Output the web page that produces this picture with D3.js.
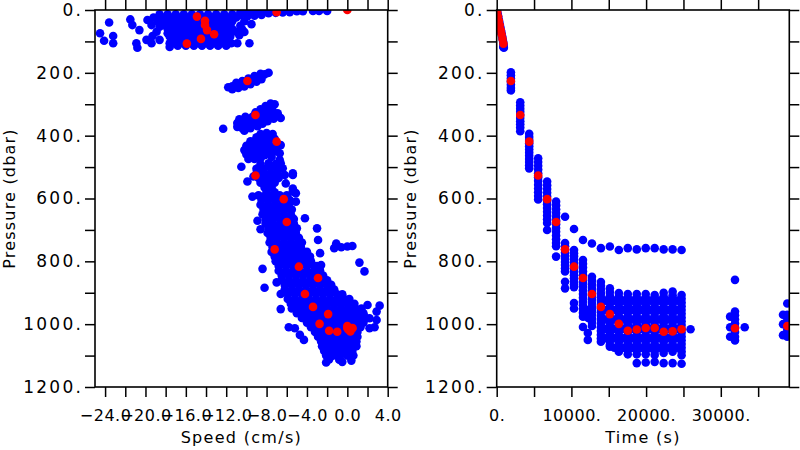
<!DOCTYPE html>
<html><head><meta charset="utf-8">
<script src="https://cdn.jsdelivr.net/npm/d3@7"></script>
<style>body{margin:0;background:#fff}</style>
</head><body>
<script>
// ---------------- DATA ----------------
// Left panel: [speed (cm/s), pressure (dbar)]
const speedBlue = [
// surface blob
[-18.6,14],[-17.8,14],[-17.0,14],[-16.2,14],[-15.4,14],[-14.6,14],[-13.8,14],[-13.0,14],[-12.2,14],[-11.4,14],
[-19.2,24],[-18.2,24],[-17.4,24],[-16.6,24],[-15.8,24],[-15.0,24],[-14.2,24],[-13.4,24],[-12.6,24],[-11.8,24],[-11.0,24],
[-18.8,36],[-17.8,36],[-17.0,36],[-16.2,36],[-15.4,36],[-14.6,36],[-13.8,36],[-13.0,36],[-12.2,36],[-11.4,36],
[-18.2,48],[-17.4,48],[-16.6,48],[-15.8,48],[-15.0,48],[-14.2,48],[-13.4,48],[-12.6,48],[-11.8,48],
[-17.8,60],[-17.0,60],[-16.2,60],[-15.4,60],[-14.6,60],[-13.8,60],[-13.0,60],[-12.2,60],[-11.4,60],
[-17.4,72],[-16.6,72],[-15.8,72],[-15.0,72],[-14.2,72],[-13.4,72],[-12.6,72],[-11.8,72],
[-17.6,84],[-17.0,84],[-16.2,84],[-15.4,84],[-14.6,84],[-13.8,84],[-13.0,84],[-12.2,84],[-11.6,84],
[-17.4,96],[-16.6,96],[-15.8,96],[-15.0,96],[-14.2,96],[-13.4,96],[-12.6,96],[-11.8,96],
[-17.6,106],[-17.0,106],[-16.2,106],[-15.4,106],[-14.6,106],[-13.8,106],[-13.0,106],[-12.2,106],[-11.5,106],
[-16.8,114],[-16.0,114],[-15.2,114],[-14.4,114],[-13.6,114],[-12.8,114],[-12.0,114],
[-24.5,74],[-24.1,98],[-23.6,40],[-23.2,83],[-23.2,106],[-21.5,30],[-21.3,48],[-20.6,64],[-20.9,106],[-20.8,120],
[-19.9,95],[-19.8,32],[-19.4,48],[-18.9,69],[-18.6,95],[-19.4,106],[-19.3,83],[-18.3,26],[-18.6,53],[-17.8,74],[-17.6,118],
[-11.0,69],[-10.7,80],[-10.4,62],[-10.9,106],[-9.7,106],[-10.2,70],[-9.5,45],[-10.6,50],[-10.2,36],
[-10.6,8],[-10.6,16],[-9.9,6],[-9.9,13],[-9.9,20],[-9.2,6],[-9.2,12],[-9.2,18],[-8.5,5],[-8.5,11],[-8.5,16],
[-7.8,5],[-7.8,10],[-7.1,4],[-7.1,9],[-6.4,4],[-6.4,8],[-5.7,4],[-5.7,7],[-5.0,4],[-4.4,4],[-3.4,3],[-2.8,3],[-2.0,3],
// 200-250 dbar
[-11.8,246],[-11.4,243],[-11.0,240],[-10.6,236],[-10.2,232],[-9.8,227],[-9.4,222],[-9.0,216],[-8.6,210],[-8.2,205],[-7.8,200],
[-11.4,252],[-10.8,248],[-10.2,243],[-9.6,236],[-9.0,228],[-8.5,220],[-11.0,232],[-10.4,226],[-9.8,218],[-9.2,210],[-8.6,203],
// 300-380 dbar
[-10.9,372],[-10.9,360],[-10.4,376],[-10.4,364],[-10.4,352],[-9.9,370],[-9.9,358],[-9.9,346],[-9.4,364],[-9.4,352],[-9.4,340],
[-8.9,358],[-8.9,346],[-8.9,334],[-8.4,350],[-8.4,338],[-8.4,326],[-7.9,342],[-7.9,330],[-7.9,318],[-7.4,334],[-7.4,320],
[-7.2,300],[-7.6,310],[-6.9,329],[-6.6,344],[-12.3,378],
[-10.7,348],[-10.1,340],[-9.1,326],[-8.6,316],[-8.1,306],[-7.6,298],[-9.6,376],[-8.9,370],[-8.4,362],[-7.9,354],[-7.3,346],[-10.2,384],
// 390-500 dbar
[-8.6,395],[-8.0,392],[-7.4,395],[-9.0,405],[-8.4,405],[-7.8,405],[-7.2,410],[-9.6,418],[-9.0,418],[-8.4,418],[-7.8,420],
[-10.0,432],[-9.4,432],[-8.8,432],[-8.2,432],[-7.6,435],[-10.2,446],[-9.6,446],[-9.0,446],[-8.4,446],[-7.8,448],[-7.2,450],
[-10.0,460],[-9.4,460],[-8.8,460],[-8.2,462],[-9.8,474],[-9.2,474],[-8.6,472],[-6.7,456],[-6.7,477],[-10.5,499],[-7.5,468],
[-7.0,440],[-6.6,430],[-6.6,488],
// 490-600 dbar
[-8.6,490],[-7.8,488],[-7.1,490],[-9.0,505],[-8.3,505],[-7.6,503],[-6.9,505],[-9.0,520],[-8.3,520],[-7.6,520],[-6.9,520],
[-8.8,535],[-8.1,535],[-7.4,535],[-6.8,535],[-8.6,550],[-7.9,550],[-7.2,550],[-8.2,565],[-7.5,565],[-8.0,578],[-7.2,580],
[-6.4,504],[-5.4,520],[-6.1,552],[-5.4,568],[-5.1,583],[-9.4,594],[-9.9,546],[-9.3,530],[-5.4,525],[-5.4,578],[-6.2,525],
// main band 590-1120 dbar
[-8.8,590],[-8.1,590],[-7.4,590],[-6.7,590],[-6.0,590],
[-8.5,605],[-7.8,605],[-7.1,605],[-6.4,605],[-5.7,605],
[-8.6,620],[-7.9,620],[-7.2,620],[-6.5,620],[-5.8,620],
[-8.3,635],[-7.6,635],[-6.9,635],[-6.2,635],[-5.5,635],
[-8.4,650],[-7.7,650],[-7.0,650],[-6.3,650],[-5.6,650],
[-8.1,665],[-7.4,665],[-6.7,665],[-6.0,665],[-5.3,665],
[-8.1,680],[-7.4,680],[-6.7,680],[-6.0,680],[-5.3,680],
[-7.8,695],[-7.1,695],[-6.4,695],[-5.7,695],[-5.0,695],
[-7.9,710],[-7.2,710],[-6.5,710],[-5.8,710],[-5.1,710],
[-7.6,725],[-6.9,725],[-6.2,725],[-5.5,725],[-4.8,725],
[-7.7,740],[-7.0,740],[-6.3,740],[-5.6,740],[-4.9,740],[-4.5,740],
[-7.4,755],[-6.7,755],[-6.0,755],[-5.3,755],[-4.6,755],
[-7.5,770],[-6.8,770],[-6.1,770],[-5.4,770],[-4.7,770],[-4.0,770],
[-7.2,785],[-6.5,785],[-5.8,785],[-5.1,785],[-4.4,785],[-3.7,785],
[-7.1,800],[-6.4,800],[-5.7,800],[-5.0,800],[-4.3,800],[-3.6,800],
[-6.8,815],[-6.1,815],[-5.4,815],[-4.7,815],[-4.0,815],[-3.3,815],[-3.0,815],
[-6.8,830],[-6.1,830],[-5.4,830],[-4.7,830],[-4.0,830],[-3.3,830],[-2.7,830],
[-6.5,845],[-5.8,845],[-5.1,845],[-4.4,845],[-3.7,845],[-3.0,845],[-2.4,845],
[-6.5,860],[-5.8,860],[-5.1,860],[-4.4,860],[-3.7,860],[-3.0,860],[-2.3,860],[-2.0,860],
[-6.2,875],[-5.5,875],[-4.8,875],[-4.1,875],[-3.4,875],[-2.7,875],[-2.0,875],[-1.6,875],
[-6.2,890],[-5.5,890],[-4.8,890],[-4.1,890],[-3.4,890],[-2.7,890],[-2.0,890],[-1.3,890],
[-5.9,905],[-5.2,905],[-4.5,905],[-3.8,905],[-3.1,905],[-2.4,905],[-1.7,905],[-1.0,905],[-0.5,905],
[-5.9,920],[-5.2,920],[-4.5,920],[-3.8,920],[-3.1,920],[-2.4,920],[-1.7,920],[-1.0,920],[-0.3,920],[0.2,920],
[-5.6,935],[-4.9,935],[-4.2,935],[-3.5,935],[-2.8,935],[-2.1,935],[-1.4,935],[-0.7,935],[0.0,935],[0.7,935],
[-5.5,950],[-4.8,950],[-4.1,950],[-3.4,950],[-2.7,950],[-2.0,950],[-1.3,950],[-0.6,950],[0.1,950],[0.8,950],[1.4,950],
[-5.0,965],[-4.3,965],[-3.6,965],[-2.9,965],[-2.2,965],[-1.5,965],[-0.8,965],[-0.1,965],[0.6,965],[1.3,965],[1.6,965],
[-4.5,980],[-3.8,980],[-3.1,980],[-2.4,980],[-1.7,980],[-1.0,980],[-0.3,980],[0.4,980],[1.1,980],[1.8,980],
[-4.0,995],[-3.3,995],[-2.6,995],[-1.9,995],[-1.2,995],[-0.5,995],[0.2,995],[0.9,995],[1.6,995],
[-3.6,1010],[-2.9,1010],[-2.2,1010],[-1.5,1010],[-0.8,1010],[-0.1,1010],[0.6,1010],[1.3,1010],
[-3.2,1025],[-2.5,1025],[-1.8,1025],[-1.1,1025],[-0.4,1025],[0.3,1025],[1.0,1025],
[-2.9,1040],[-2.2,1040],[-1.5,1040],[-0.8,1040],[-0.1,1040],[0.6,1040],[1.0,1040],
[-2.6,1055],[-1.9,1055],[-1.2,1055],[-0.5,1055],[0.2,1055],[0.9,1055],
[-2.5,1070],[-1.8,1070],[-1.1,1070],[-0.4,1070],[0.3,1070],[0.9,1070],
[-2.3,1085],[-1.6,1085],[-0.9,1085],[-0.2,1085],[0.5,1085],
[-2.1,1100],[-1.4,1100],[-0.7,1100],[0.0,1100],[0.6,1100],
[-1.8,1112],[-0.8,1113],[0.4,1116],[-2.1,1122],[-0.5,1120],
// outliers
[-8.9,671],[-8.6,698],[-8.4,824],[-8.2,884],[-7.0,867],[-6.6,904],[-6.6,952],[-4.2,663],[-5.1,610],
[-3.0,695],[-2.9,732],[-2.7,774],[-2.6,812],[-1.1,743],[-1.3,758],[-0.6,755],[0.0,753],[0.5,751],
[1.2,804],[1.7,832],[3.2,941],[2.0,939],[2.9,960],[2.2,981],[2.9,987],[2.2,1013],[2.7,1010],
[-5.8,1010],[-5.2,1013],[-4.7,1034],[-4.3,1050]
];
const speedRed = [
[0.0,0],[-7.0,7],[-14.9,21],[-14.1,34],[-14.1,48],[-13.9,64],[-13.2,77],[-14.5,92],[-15.9,107],
[-9.9,226],[-9.1,334],[-7.0,419],[-9.1,527],[-6.3,602],[-6.0,675],[-7.2,762],[-4.8,817],[-2.9,853],
[-4.2,904],[-3.4,945],[-1.9,968],[-2.75,999],[-1.8,1021],[0.1,1017],[0.0,1012],[0.5,1012],[-1.0,1024],
[0.3,1023],[0.2,1016],[0.5,1013],[0.0,1006]
];

// Right panel: [time (s), pressure (dbar)]
const descentBlue = [
[60,3],[130,12],[200,20],[280,30],[350,38],[430,48],[500,56],[580,66],[650,74],[730,84],[800,93],[860,101],
[910,109],[930,116],[960,120],[880,118]
];
const profileTimes = [1900,3150,4350,5550,6750,7950,9150,10350,11550,12750,13950,15150,16350,17550,18750,19950,21150,22350,23550,24750,25950,31900,38900];
const profilePressures = [
[198,208,218,228,238,248,256],
[294,304,314,324,334,344,354,364,374,386],
[394,404,414,424,434,444,454,464,474,484,494,504],
[472,484,496,508,520,532,544,556,568,580,592,603],
[546,558,570,582,594,606,618,630,642,654,666,678,700],
[610,622,634,646,658,670,682,694,706,718,730,742,752,785],
[658,742,752,762,772,782,792,802,812,822,832,865,886],
[697,764,774,784,794,804,814,824,834,844,854,864,874,882,933,950],
[732,796,808,820,832,844,856,868,880,892,904,916,928,940,952,964,976,1009],
[743,849,861,873,885,897,909,921,933,945,957,969,981,993,1006],
[758,866,878,890,902,914,926,938,950,962,974,986,998,1010,1022,1034,1046,1056],
[753,886,898,910,922,934,946,958,970,982,994,1006,1018,1030,1042,1054,1066,1072],
[764,901,913,925,937,949,961,973,985,997,1009,1021,1033,1045,1057,1069,1081,1088],
[758,904,916,928,940,952,964,976,988,1000,1012,1024,1036,1048,1060,1072,1084,1096],
[762,904,916,928,940,952,964,976,988,1000,1012,1024,1036,1048,1060,1072,1084,1096,1124],
[758,904,916,928,940,952,964,976,988,1000,1012,1024,1036,1048,1060,1072,1084,1096,1122],
[758,907,919,931,943,955,967,979,991,1003,1015,1027,1039,1051,1063,1075,1087,1098,1120],
[762,900,912,924,936,948,960,972,984,996,1008,1020,1032,1044,1056,1068,1080,1092,1124],
[762,896,908,920,932,944,956,968,980,992,1004,1016,1028,1040,1052,1064,1076,1088,1124],
[764,907,919,931,943,955,967,979,991,1003,1015,1027,1039,1051,1063,1075,1087,1099,1126],
[1016],
[859,960,972,985,998,1010,1025,1040,1052],
[934,970,982,994,1006,1018,1030,1040]
];
const timeBlueExtra = [
[12200,1028],[12200,1050],[12250,955],[12250,980],
[14550,925],[14550,955],[14550,985],[14550,1015],[14550,1045],
[15750,925],[15750,955],[15750,985],[15750,1015],[15750,1045],[15750,1075],
[16950,925],[16950,955],[16950,985],[16950,1015],[16950,1045],[16950,1075],
[18150,925],[18150,955],[18150,985],[18150,1015],[18150,1045],[18150,1075],
[19350,925],[19350,955],[19350,985],[19350,1015],[19350,1045],[19350,1075],
[20550,925],[20550,955],[20550,985],[20550,1015],[20550,1045],[20550,1075],
[21750,925],[21750,955],[21750,985],[21750,1015],[21750,1045],[21750,1075],
[22950,925],[22950,955],[22950,985],[22950,1015],[22950,1045],[22950,1075],
[24150,925],[24150,955],[24150,985],[24150,1015],[24150,1045],[24150,1075],
[31250,976],[31250,1010],[31250,1040],[33200,1010],
[38330,970],[38330,1000],[38330,1035]
];
const timeRed = [
[0,0],[60,7],[180,21],[290,34],[400,48],[540,64],[650,77],[780,92],[900,107],
[1900,226],[3150,334],[4350,419],[5550,527],[6750,602],[7950,675],[9150,762],[10350,817],[11550,853],
[12750,904],[13950,945],[15150,968],[16350,999],[17550,1021],[18750,1017],[19950,1012],[21150,1012],
[22350,1024],[23550,1023],[24750,1016],[31900,1013],[38900,1006]
];
const pressureTicks = [0,100,200,300,400,500,600,700,800,900,1000,1100,1200];
const pressureLabels = ["0.","200.","400.","600.","800.","1000.","1200."];
const speedTicks = [-24,-22,-20,-18,-16,-14,-12,-10,-8,-6,-4,-2,0,2,4];
const speedLabels = ["\u221224.0","\u221220.0","\u221216.0","\u221212.0","\u22128.0","\u22124.0","0.0","4.0"];
const timeTicks = [0,5000,10000,15000,20000,25000,30000,35000];
const timeLabels = ["0.","10000.","20000.","30000."];

// ---------------- DRAW ----------------
const svg = d3.select("body").append("svg").attr("width",800).attr("height",450);
const FONT = "'DejaVu Sans', sans-serif";
const yScale = d3.scaleLinear().domain([0,1200]).range([10,387]);
const xSpeed = d3.scaleLinear().domain([-25,4]).range([95,387.7]);
const xTime = d3.scaleLinear().domain([0,39170]).range([496.7,789.3]);

const timeBlue = descentBlue.concat(
  profileTimes.flatMap((t,i)=>profilePressures[i].map(p=>[t,p])),
  timeBlueExtra);

function panel(id, x, ticksX, labelsX, xTitle, blue, red, titleX){
  const [x0,x1] = x.range(), y0=10, y1=387;
  const g = svg.append("g");
  g.append("clipPath").attr("id",id).append("rect")
    .attr("x",x0).attr("y",y0).attr("width",x1-x0).attr("height",y1-y0);
  const pts = g.append("g").attr("clip-path",`url(#${id})`);
  pts.selectAll("circle.b").data(blue).join("circle").attr("class","b")
    .attr("cx",d=>x(d[0])).attr("cy",d=>yScale(d[1])).attr("r",4.3).attr("fill","#0000ff");
  pts.selectAll("circle.r").data(red).join("circle").attr("class","r")
    .attr("cx",d=>x(d[0])).attr("cy",d=>yScale(d[1])).attr("r",4.3).attr("fill","#ff0000");

  const clean = s => s.select(".domain").remove();
  const fmtX = d => (ticksX.indexOf(d)%2===0) ? labelsX[ticksX.indexOf(d)/2] : "";
  const fmtY = d => (d%200===0) ? pressureLabels[d/200] : "";
  const bottom = g.append("g").attr("transform",`translate(0,${y1})`)
    .call(d3.axisBottom(x).tickValues(ticksX).tickSize(10).tickSizeOuter(0).tickPadding(13).tickFormat(fmtX)).call(clean);
  g.append("g").attr("transform",`translate(0,${y0})`)
    .call(d3.axisTop(x).tickValues(ticksX).tickSize(10).tickSizeOuter(0).tickFormat("")).call(clean);
  const left = g.append("g").attr("transform",`translate(${x0},0)`)
    .call(d3.axisLeft(yScale).tickValues(pressureTicks).tickSize(10).tickSizeOuter(0).tickPadding(2).tickFormat(fmtY)).call(clean);
  g.append("g").attr("transform",`translate(${x1},0)`)
    .call(d3.axisRight(yScale).tickValues(pressureTicks).tickSize(10).tickSizeOuter(0).tickFormat("")).call(clean);
  g.selectAll(".tick line").attr("stroke","#000").attr("stroke-width",1.5);
  bottom.selectAll("text").attr("font-family",FONT).attr("font-size",16).attr("letter-spacing",0.5).attr("fill","#000");
  left.selectAll("text").attr("font-family",FONT).attr("font-size",17).attr("letter-spacing",2.2).attr("fill","#000");
  g.append("rect").attr("x",x0).attr("y",y0).attr("width",x1-x0).attr("height",y1-y0)
    .attr("fill","none").attr("stroke","#000").attr("stroke-width",1.6);
  g.append("text").attr("x",(x0+x1)/2).attr("y",443).attr("text-anchor","middle")
    .attr("font-family",FONT).attr("font-size",16).attr("letter-spacing",1.3).text(xTitle);
  g.append("text").attr("transform",`translate(${titleX},198.5) rotate(-90)`).attr("text-anchor","middle")
    .attr("font-family",FONT).attr("font-size",16).attr("letter-spacing",1.2).text("Pressure (dbar)");
}
panel("clipL", xSpeed, speedTicks, speedLabels, "Speed (cm/s)", speedBlue, speedRed, 15);
panel("clipR", xTime, timeTicks, timeLabels, "Time (s)", timeBlue, timeRed, 416);
</script>
</body></html>
